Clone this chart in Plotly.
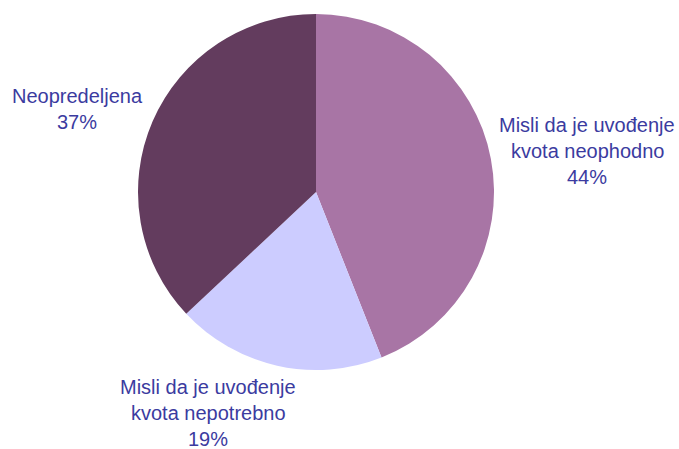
import plotly.graph_objects as go

# Survey answers on the need for quotas
labels = ["Misli da je uvođenje kvota neophodno",
          "Misli da je uvođenje kvota nepotrebno",
          "Neopredeljena"]
values = [44, 19, 37]
colors = ["#A875A5", "#CCCCFF", "#633C5E"]

# Label lines shown next to each slice
label_lines = [
    ["Misli da je uvođenje", "kvota neophodno", "44%"],
    ["Misli da je uvođenje", "kvota nepotrebno", "19%"],
    ["Neopredeljena", "37%"],
]

W, H = 679, 449
cx, cy, r = 316, 192, 178

fig = go.Figure(go.Pie(
    labels=labels,
    values=values,
    marker=dict(colors=colors, line=dict(width=0)),
    sort=False,
    direction="clockwise",
    rotation=0,
    textinfo="none",
    hoverinfo="label+percent",
    showlegend=False,
    domain=dict(x=[(cx - r) / W, (cx + r) / W],
                y=[1 - (cy + r) / H, 1 - (cy - r) / H]),
))

# Placement of each label block (center x, first line y) in pixels
anchors = [(587, 125), (208, 387), (77, 96)]
line_gap = 26.0
font = dict(family="Liberation Sans, Arial, sans-serif", size=20, color="#3B3BA0")

annotations = []
for lines, (ax, ay) in zip(label_lines, anchors):
    for i, t in enumerate(lines):
        annotations.append(dict(
            x=ax / W, y=1 - (ay + i * line_gap) / H,
            xref="paper", yref="paper",
            text=t, showarrow=False,
            xanchor="center", yanchor="middle",
            font=font,
        ))

fig.update_layout(
    width=W, height=H,
    margin=dict(l=0, r=0, t=0, b=0),
    paper_bgcolor="white",
    plot_bgcolor="white",
    annotations=annotations,
)

fig.write_html("out.html")
